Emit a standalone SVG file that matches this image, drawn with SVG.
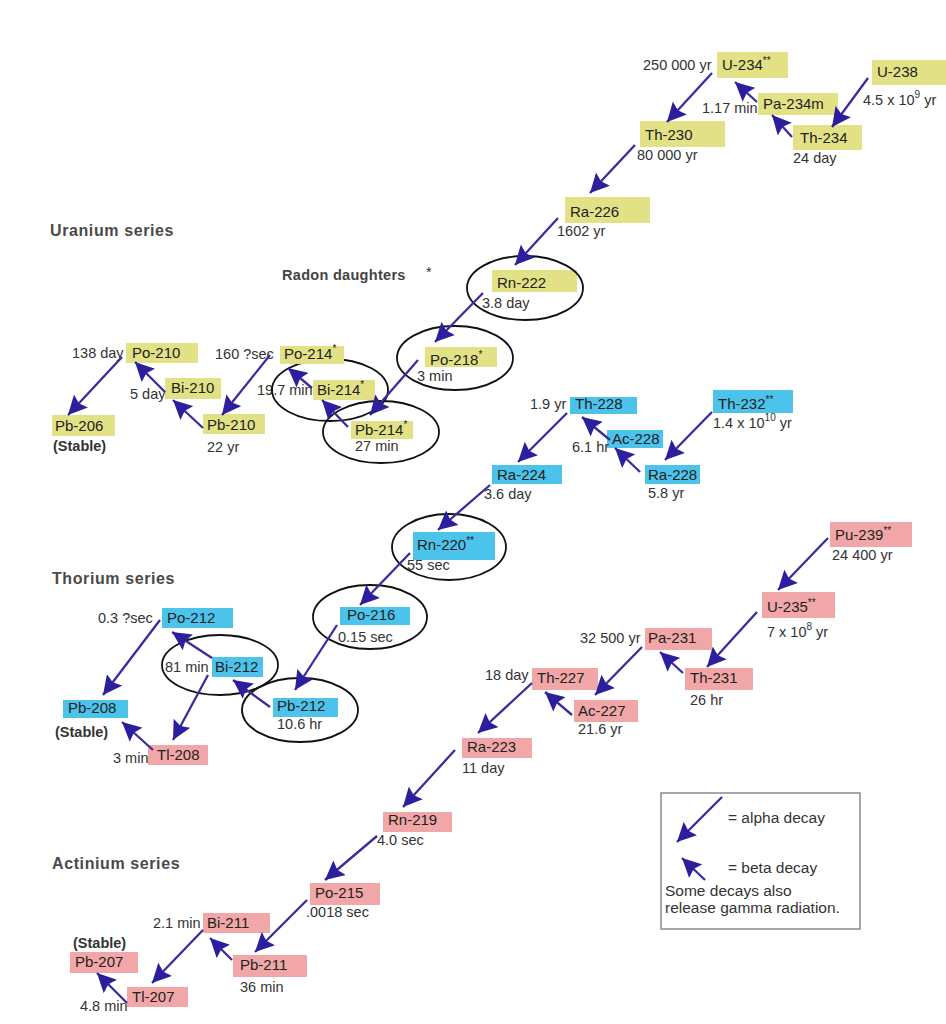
<svg xmlns="http://www.w3.org/2000/svg" width="946" height="1024" viewBox="0 0 946 1024">
<style>
.n{font-family:"Liberation Sans",Arial,sans-serif;font-size:15px;fill:#222}
.h{font-family:"Liberation Sans",Arial,sans-serif;font-size:14.5px;fill:#333}
.s{font-size:10px}
.t{font-family:"Liberation Sans",Arial,sans-serif;font-size:16px;font-weight:bold;fill:#4a4a4a;letter-spacing:0.6px}
.st{font-family:"Liberation Sans",Arial,sans-serif;font-size:14.5px;font-weight:bold;fill:#444;letter-spacing:0.3px}
.y{fill:#e2e185}
.c{fill:#4cc3ea}
.p{fill:#f1a7a7}
.el{fill:none;stroke:#111;stroke-width:1.8}
.a{stroke:#3d2b9c;stroke-width:2.3;fill:none;marker-end:url(#ah)}
.lg{font-family:"Liberation Sans",Arial,sans-serif;font-size:15.5px;fill:#333}
</style>
<defs>
<marker id="ah" markerUnits="userSpaceOnUse" markerWidth="21" markerHeight="19" refX="19" refY="9.5" orient="auto">
<path d="M0,0 L19,9.5 L0,19 L3,9.5 z" fill="#2c1f9e"/>
</marker>
</defs>
<rect width="946" height="1024" fill="#fff"/>

<text class="t" x="50" y="236">Uranium series</text>
<text class="t" x="52" y="584">Thorium series</text>
<text class="t" x="52" y="869">Actinium series</text>
<text class="st" x="282" y="280">Radon daughters</text>
<text class="h" x="426" y="277" fill="#666">*</text>

<!-- Uranium series -->
<g id="U238"><rect class="y" x="872" y="60" width="74" height="25"/><text class="n" x="877" y="77">U-238</text><text class="h" x="863" y="105">4.5 x 10<tspan class="s" dy="-7">9</tspan><tspan dy="7"> yr</tspan></text></g>
<g id="Th234"><rect class="y" x="793" y="125" width="69" height="25"/><text class="n" x="800" y="143">Th-234</text><text class="h" x="793" y="163">24 day</text></g>
<g id="Pa234m"><rect class="y" x="758" y="93" width="80" height="22"/><text class="n" x="763" y="109">Pa-234m</text><text class="h" x="702" y="113">1.17 min</text></g>
<g id="U234"><rect class="y" x="717" y="52" width="71" height="26"/><text class="n" x="722" y="70">U-234<tspan class="s" dy="-6">**</tspan></text><text class="h" x="643" y="70">250 000 yr</text></g>
<g id="Th230"><rect class="y" x="640" y="121" width="85" height="26"/><text class="n" x="645" y="140">Th-230</text><text class="h" x="637" y="160">80 000 yr</text></g>
<g id="Ra226"><rect class="y" x="565" y="197" width="85" height="26"/><text class="n" x="570" y="217">Ra-226</text><text class="h" x="557" y="236">1602 yr</text></g>
<g id="Rn222"><rect class="y" x="492" y="270" width="85" height="22"/><text class="n" x="497" y="288">Rn-222</text><text class="h" x="482" y="308">3.8 day</text><ellipse class="el" cx="525" cy="288" rx="58" ry="32"/></g>
<g id="Po218"><rect class="y" x="425" y="347" width="72" height="20"/><text class="n" x="430" y="365">Po-218<tspan class="s" dy="-7">*</tspan></text><text class="h" x="417" y="381">3 min</text><ellipse class="el" cx="455" cy="358" rx="58" ry="32"/></g>
<g id="Bi214"><rect class="y" x="313" y="380" width="62" height="20"/><text class="n" x="317" y="395">Bi-214<tspan class="s" dy="-7">*</tspan></text><text class="h" x="257" y="395">19.7 min</text><ellipse class="el" cx="330" cy="390" rx="58" ry="31"/></g>
<g id="Pb214"><rect class="y" x="351" y="421" width="62" height="18"/><text class="n" x="355" y="435">Pb-214<tspan class="s" dy="-7">*</tspan></text><text class="h" x="355" y="451">27 min</text><ellipse class="el" cx="381" cy="432" rx="58" ry="31"/></g>
<g id="Po214"><rect class="y" x="280" y="346" width="64" height="18"/><text class="n" x="284" y="359">Po-214<tspan class="s" dy="-7">*</tspan></text><text class="h" x="215" y="359">160 ?sec</text></g>
<g id="Pb210"><rect class="y" x="203" y="414" width="62" height="20"/><text class="n" x="207" y="430">Pb-210</text><text class="h" x="207" y="452">22 yr</text></g>
<g id="Bi210"><rect class="y" x="165" y="378" width="56" height="21"/><text class="n" x="171" y="393">Bi-210</text><text class="h" x="130" y="399">5 day</text></g>
<g id="Po210"><rect class="y" x="126" y="343" width="72" height="20"/><text class="n" x="132" y="358">Po-210</text><text class="h" x="72" y="358">138 day</text></g>
<g id="Pb206"><rect class="y" x="52" y="415" width="63" height="21"/><text class="n" x="55" y="431">Pb-206</text><text class="h" x="53" y="451" font-weight="bold" fill="#444">(Stable)</text></g>

<!-- Thorium series -->
<g id="Th232"><rect class="c" x="713" y="390" width="80" height="23"/><text class="n" x="718" y="409">Th-232<tspan class="s" dy="-6">**</tspan></text><text class="h" x="713" y="428">1.4 x 10<tspan class="s" dy="-7">10</tspan><tspan dy="7"> yr</tspan></text></g>
<g id="Ra228"><rect class="c" x="645" y="465" width="55" height="19"/><text class="n" x="648" y="480">Ra-228</text><text class="h" x="648" y="498">5.8 yr</text></g>
<g id="Ac228"><rect class="c" x="607" y="430" width="56" height="18"/><text class="n" x="612" y="444">Ac-228</text><text class="h" x="572" y="452">6.1 hr</text></g>
<g id="Th228"><rect class="c" x="570" y="397" width="67" height="17"/><text class="n" x="575" y="409">Th-228</text><text class="h" x="530" y="409">1.9 yr</text></g>
<g id="Ra224"><rect class="c" x="492" y="465" width="70" height="19"/><text class="n" x="497" y="480">Ra-224</text><text class="h" x="484" y="499">3.6 day</text></g>
<g id="Rn220"><rect class="c" x="413" y="532" width="82" height="28"/><text class="n" x="417" y="550">Rn-220<tspan class="s" dy="-6">**</tspan></text><text class="h" x="407" y="570">55 sec</text><ellipse class="el" cx="449" cy="547" rx="57" ry="33"/></g>
<g id="Po216"><rect class="c" x="340" y="607" width="70" height="18"/><text class="n" x="347" y="620">Po-216</text><text class="h" x="338" y="642">0.15 sec</text><ellipse class="el" cx="370" cy="617" rx="57" ry="32"/></g>
<g id="Pb212"><rect class="c" x="273" y="698" width="65" height="19"/><text class="n" x="277" y="711">Pb-212</text><text class="h" x="277" y="729">10.6 hr</text><ellipse class="el" cx="300" cy="710" rx="58" ry="32"/></g>
<g id="Bi212"><rect class="c" x="212" y="657" width="51" height="20"/><text class="n" x="215" y="672">Bi-212</text><text class="h" x="165" y="672">81 min</text><ellipse class="el" cx="220" cy="665" rx="58" ry="30"/></g>
<g id="Po212"><rect class="c" x="162" y="608" width="71" height="20"/><text class="n" x="167" y="623">Po-212</text><text class="h" x="98" y="623">0.3 ?sec</text></g>
<g id="Pb208"><rect class="c" x="63" y="700" width="65" height="18"/><text class="n" x="68" y="713">Pb-208</text><text class="h" x="55" y="737" font-weight="bold" fill="#444">(Stable)</text></g>
<g id="Tl208"><rect class="p" x="148" y="745" width="60" height="20"/><text class="n" x="157" y="760">Tl-208</text><text class="h" x="113" y="763">3 min</text></g>

<!-- Actinium series -->
<g id="Pu239"><rect class="p" x="830" y="522" width="82" height="25"/><text class="n" x="835" y="540">Pu-239<tspan class="s" dy="-6">**</tspan></text><text class="h" x="832" y="560">24 400 yr</text></g>
<g id="U235"><rect class="p" x="762" y="592" width="73" height="26"/><text class="n" x="767" y="612">U-235<tspan class="s" dy="-6">**</tspan></text><text class="h" x="767" y="637">7 x 10<tspan class="s" dy="-7">8</tspan><tspan dy="7"> yr</tspan></text></g>
<g id="Th231"><rect class="p" x="685" y="668" width="68" height="22"/><text class="n" x="690" y="683">Th-231</text><text class="h" x="690" y="705">26 hr</text></g>
<g id="Pa231"><rect class="p" x="645" y="628" width="67" height="22"/><text class="n" x="648" y="643">Pa-231</text><text class="h" x="580" y="643">32 500 yr</text></g>
<g id="Ac227"><rect class="p" x="574" y="700" width="64" height="22"/><text class="n" x="578" y="716">Ac-227</text><text class="h" x="578" y="734">21.6 yr</text></g>
<g id="Th227"><rect class="p" x="532" y="668" width="66" height="22"/><text class="n" x="537" y="683">Th-227</text><text class="h" x="485" y="680">18 day</text></g>
<g id="Ra223"><rect class="p" x="462" y="738" width="70" height="20"/><text class="n" x="467" y="752">Ra-223</text><text class="h" x="462" y="773">11 day</text></g>
<g id="Rn219"><rect class="p" x="383" y="812" width="69" height="20"/><text class="n" x="388" y="825">Rn-219</text><text class="h" x="377" y="845">4.0 sec</text></g>
<g id="Po215"><rect class="p" x="310" y="883" width="70" height="22"/><text class="n" x="315" y="898">Po-215</text><text class="h" x="306" y="917">.0018 sec</text></g>
<g id="Pb211"><rect class="p" x="233" y="955" width="74" height="22"/><text class="n" x="240" y="970">Pb-211</text><text class="h" x="240" y="992">36 min</text></g>
<g id="Bi211"><rect class="p" x="203" y="913" width="67" height="20"/><text class="n" x="207" y="928">Bi-211</text><text class="h" x="153" y="928">2.1 min</text></g>
<g id="Tl207"><rect class="p" x="127" y="987" width="61" height="20"/><text class="n" x="132" y="1002">Tl-207</text><text class="h" x="80" y="1011">4.8 min</text></g>
<g id="Pb207"><rect class="p" x="70" y="952" width="68" height="21"/><text class="n" x="75" y="967">Pb-207</text><text class="h" x="73" y="948" font-weight="bold" fill="#444">(Stable)</text></g>

<!-- Connectors -->
<g id="connectors">
<line class="a" x1="868" y1="78" x2="832" y2="127"/>
<line class="a" x1="792" y1="137" x2="772" y2="115"/>
<line class="a" x1="757" y1="102" x2="735" y2="82"/>
<line class="a" x1="712" y1="73" x2="667" y2="122"/>
<line class="a" x1="635" y1="145" x2="590" y2="193"/>
<line class="a" x1="558" y1="218" x2="515" y2="265"/>
<line class="a" x1="483" y1="293" x2="435" y2="342"/>
<line class="a" x1="418" y1="360" x2="370" y2="415"/>
<line class="a" x1="348" y1="427" x2="322" y2="400"/>
<line class="a" x1="312" y1="388" x2="288" y2="368"/>
<line class="a" x1="270" y1="355" x2="222" y2="415"/>
<line class="a" x1="203" y1="428" x2="173" y2="400"/>
<line class="a" x1="165" y1="392" x2="135" y2="362"/>
<line class="a" x1="122" y1="357" x2="68" y2="415"/>

<line class="a" x1="712" y1="412" x2="665" y2="460"/>
<line class="a" x1="640" y1="472" x2="615" y2="448"/>
<line class="a" x1="610" y1="440" x2="582" y2="417"/>
<line class="a" x1="567" y1="413" x2="518" y2="462"/>
<line class="a" x1="490" y1="485" x2="438" y2="530"/>
<line class="a" x1="410" y1="553" x2="360" y2="605"/>
<line class="a" x1="337" y1="625" x2="295" y2="690"/>
<line class="a" x1="270" y1="707" x2="233" y2="680"/>
<line class="a" x1="212" y1="658" x2="172" y2="632"/>
<line class="a" x1="160" y1="620" x2="103" y2="695"/>
<line class="a" x1="208" y1="675" x2="173" y2="740"/>
<line class="a" x1="153" y1="750" x2="122" y2="722"/>

<line class="a" x1="828" y1="538" x2="778" y2="590"/>
<line class="a" x1="757" y1="612" x2="707" y2="667"/>
<line class="a" x1="683" y1="673" x2="660" y2="652"/>
<line class="a" x1="642" y1="647" x2="595" y2="695"/>
<line class="a" x1="572" y1="715" x2="545" y2="692"/>
<line class="a" x1="532" y1="683" x2="478" y2="733"/>
<line class="a" x1="455" y1="750" x2="403" y2="807"/>
<line class="a" x1="377" y1="836" x2="325" y2="880"/>
<line class="a" x1="307" y1="900" x2="255" y2="952"/>
<line class="a" x1="232" y1="960" x2="210" y2="938"/>
<line class="a" x1="203" y1="930" x2="152" y2="983"/>
<line class="a" x1="127" y1="1003" x2="97" y2="973"/>
</g>

<!-- Legend -->
<g id="legend">
<rect x="661" y="793" width="199" height="136" fill="#fff" stroke="#8a8a8a" stroke-width="1.5"/>
<line class="a" x1="722" y1="797" x2="677" y2="842"/>
<line class="a" x1="705" y1="880" x2="682" y2="858"/>
<text class="lg" x="728" y="823">=  alpha decay</text>
<text class="lg" x="728" y="873">=  beta decay</text>
<text class="lg" x="665" y="896">Some decays also</text>
<text class="lg" x="665" y="913">release gamma radiation.</text>
</g>
</svg>
